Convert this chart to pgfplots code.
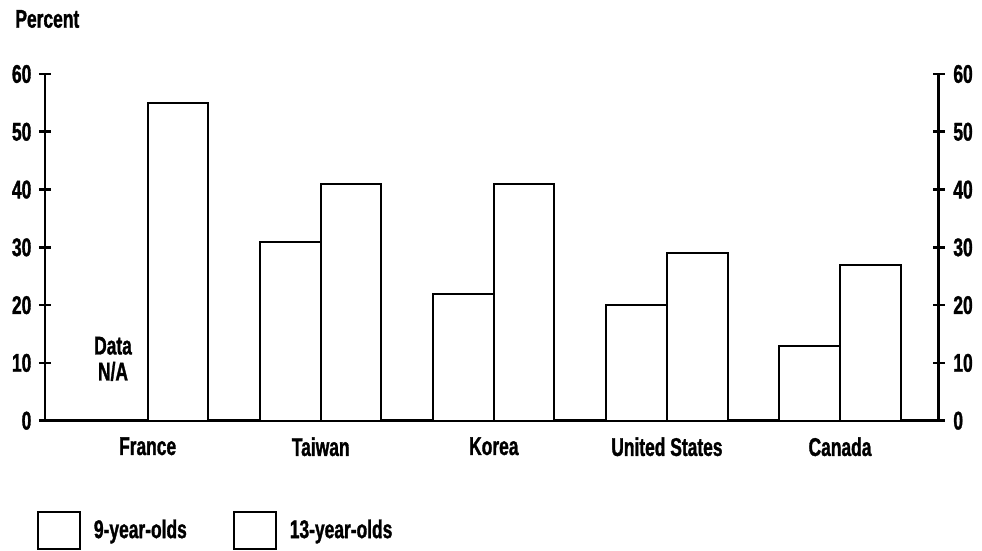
\documentclass[border=0pt]{standalone}
\usepackage{fontspec}
\setmainfont{Liberation Sans}[FakeStretch=0.68, BoldFeatures={FakeBold=1.2}]
\usepackage{pgfplots}
\pgfplotsset{compat=1.18}
\newcommand{\chartfont}{\fontsize{12.8}{13}\selectfont\bfseries}
\begin{document}
\begin{tikzpicture}
\pgfplotsset{
  common/.style={
    width=446.85pt, height=173.35pt, scale only axis,
    xmin=-0.593, xmax=4.570, ymin=0, ymax=60,
    ytick={0,10,...,60},
    tick align=inside,
    major tick length=6pt,
    /pgf/number format/assume math mode=true,
    tick label style={font=\chartfont},
    every tick/.style={line width=1.3pt, black},
  },
  noarrows/.style={
    axis line style={line width=1.3pt, -},
    every outer x axis line/.append style={-},
    every outer y axis line/.append style={-},
    every inner x axis line/.append style={-},
    every inner y axis line/.append style={-},
  }
}
\begin{axis}[common,
  axis x line=bottom, axis y line=left,
  noarrows,
  xtick={0,1,2,3,4},
  xticklabels={France,Taiwan,Korea,United States,Canada},
  x tick style={draw=none},
  xticklabel style={yshift=1.2pt},
  yticklabel style={xshift=-0.3pt},
  ybar, bar width=0.3504,
  clip=false,
  legend columns=2,
  legend style={draw=none, fill=none, inner sep=0pt, outer sep=0pt,
    at={(rel axis cs:-0.009,-0.26)}, anchor=north west,
    font=\chartfont,
    /tikz/every odd column/.append style={column sep=4.5pt},
    /tikz/every even column/.append style={column sep=21pt}},
]
\addplot[fill=white, draw=black, line width=1pt, bar shift=-0.1752,
  legend image code/.code={\draw[fill=white, draw=black, line width=1pt] (0pt,-9.25pt) rectangle (21pt,9.25pt);}]
  coordinates {(1,31) (2,22) (3,20) (4,13)};
\addplot[fill=white, draw=black, line width=1pt, bar shift=0.1752,
  legend image code/.code={\draw[fill=white, draw=black, line width=1pt] (0pt,-9.25pt) rectangle (21pt,9.25pt);}]
  coordinates {(0,55) (1,41) (2,41) (3,29) (4,27)};
\legend{9-year-olds, 13-year-olds}
\node[align=center, inner sep=0pt, font=\chartfont] at (axis cs:-0.2,10.7) {Data\\N/A};
\node[anchor=west, inner sep=0pt, font=\chartfont, xshift=-15pt, yshift=27.5pt] at (rel axis cs:0,1) {Percent};
\end{axis}
\begin{axis}[common, axis x line=none, axis y line=right, noarrows,
  yticklabel style={xshift=0.8pt}]
\end{axis}
\pgfresetboundingbox
\path[use as bounding box] (-22.5pt,-65.15pt) rectangle (468.5pt,210.35pt);
\end{tikzpicture}
\end{document}
